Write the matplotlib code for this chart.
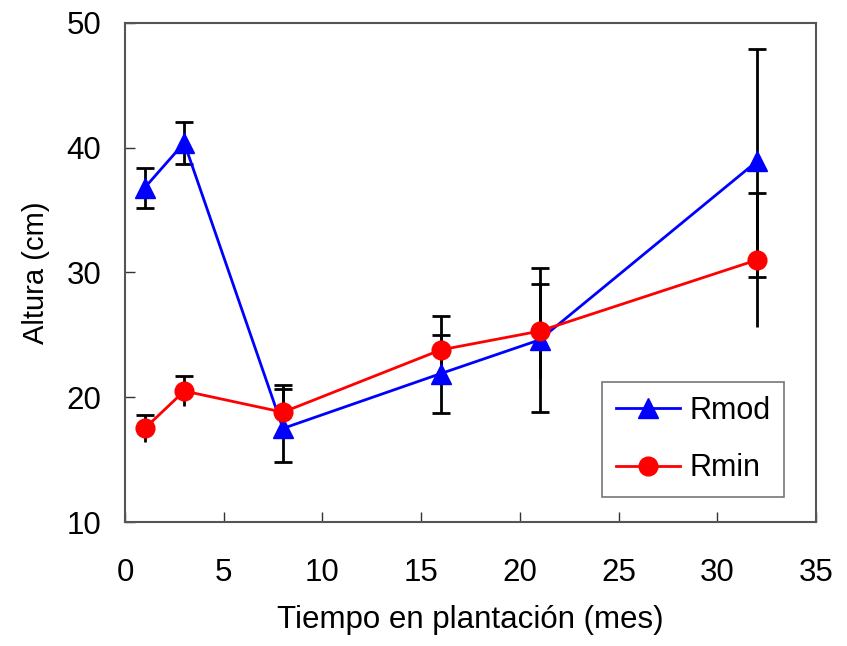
import matplotlib
matplotlib.use("Agg")
import matplotlib.pyplot as plt
from matplotlib import font_manager as fm

months = [1, 3, 8, 16, 21, 32]
rmod = [36.8, 40.4, 17.5, 21.9, 24.6, 38.9]
rmod_err_lo = [1.6, 1.7, 2.7, 3.2, 5.8, 9.3]
rmod_err_hi = [1.6, 1.7, 3.5, 3.1, 5.8, 9.0]
rmin = [17.5, 20.5, 18.8, 23.8, 25.3, 31.0]
rmin_err = [1.05, 1.2, 1.9, 2.7, 3.8, 5.4]

xticks = [0, 5, 10, 15, 20, 25, 30, 35]
yticks = [10, 20, 30, 40, 50]

names = {f.name for f in fm.fontManager.ttflist}
fam = "Liberation Sans Narrow" if "Liberation Sans Narrow" in names else "Liberation Sans"
plt.rcParams['font.family'] = [fam, 'DejaVu Sans']

fig = plt.figure(figsize=(8.47, 6.46), dpi=100)
ax = fig.add_axes([125/847, 1-522/646, (816-125)/847, (522-23)/646])

ecol = 'black'
elw = 2.0
# Rmod error bars (both caps)
ax.errorbar(months, rmod, yerr=[rmod_err_lo, rmod_err_hi], fmt='none',
            ecolor=ecol, elinewidth=elw, capsize=6.5, capthick=elw, zorder=2)
# Rmin error bars: upper with caps, lower without
ax.errorbar(months, rmin, yerr=[[0]*len(rmin), rmin_err], fmt='none',
            ecolor=ecol, elinewidth=elw, capsize=6.5, capthick=elw, zorder=2)
ax.errorbar(months, rmin, yerr=[rmin_err, [0]*len(rmin)], fmt='none',
            ecolor=ecol, elinewidth=elw, capsize=0, zorder=2)

ax.plot(months, rmod, color='#0000FF', lw=2.0, marker='^', ms=15,
        markerfacecolor='#0000FF', markeredgecolor='#0000FF', label='Rmod', zorder=3)
ax.plot(months, rmin, color='#FF0000', lw=2.0, marker='o', ms=13.5,
        markerfacecolor='#FF0000', markeredgecolor='#FF0000', label='Rmin', zorder=3)

ax.set_xlim(0, 35)
ax.set_ylim(10, 50)
ax.set_xticks(xticks)
ax.set_yticks(yticks)
ax.tick_params(direction='in', length=7, width=1, labelsize=22.5, colors='#333333', labelcolor='black')
ax.tick_params(axis='x', pad=26)
ax.tick_params(axis='y', pad=17)
for s in ax.spines.values():
    s.set_color('#555555')
    s.set_linewidth(1.5)

ax.set_xlabel('Tiempo en plantación (mes)', fontsize=22.5, labelpad=12)
ax.set_ylabel('Altura (cm)', fontsize=21, labelpad=12)

leg = ax.legend(loc='lower right', bbox_to_anchor=(784/847, 1-497/646), bbox_transform=fig.transFigure,
                fontsize=22, frameon=True, fancybox=False, edgecolor='#555555',
                handlelength=2.1, borderpad=0.45, labelspacing=0.9, handletextpad=0.3, borderaxespad=0)
leg.get_frame().set_linewidth(1.2)

fig.savefig('out.png', dpi=100)
